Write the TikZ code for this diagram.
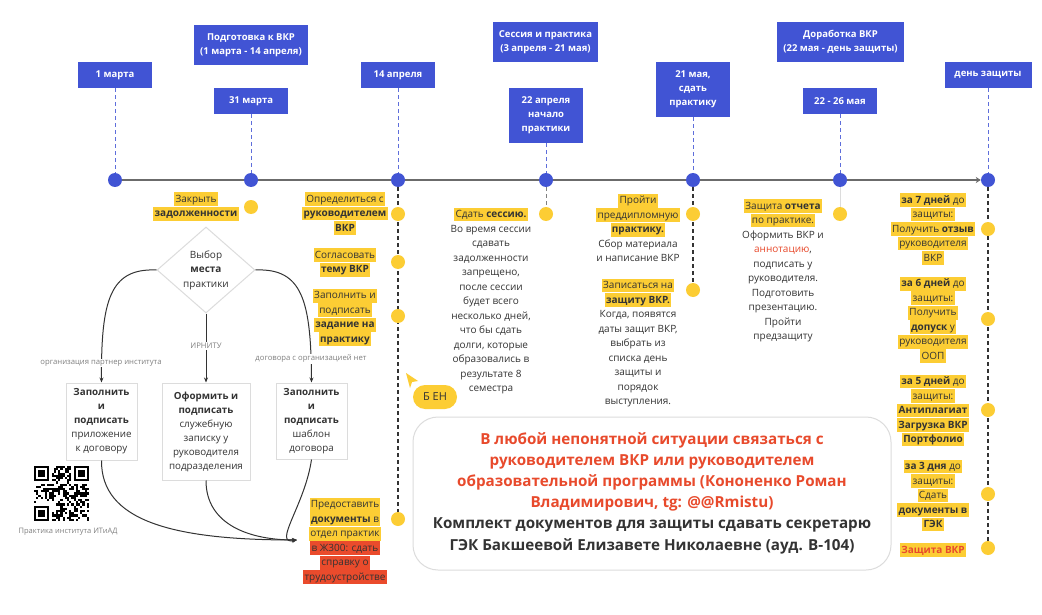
\documentclass[tikz,border=0pt]{standalone}
\usepackage{fontspec}
\setmainfont{Open Sans}
\usetikzlibrary{arrows.meta,shapes.geometric,backgrounds}
\definecolor{vblue}{HTML}{4154D4}
\definecolor{hly}{HTML}{FCCD34}
\definecolor{hlr}{HTML}{EA4B2C}
\definecolor{txt}{HTML}{333333}
\definecolor{redt}{HTML}{E84A2C}
\definecolor{tl}{HTML}{6B6B6B}
\definecolor{lg}{HTML}{DCDCDC}
\newcommand\hl[2][hly]{{\setlength{\fboxsep}{0pt}\colorbox{#1}{\kern1.2pt\rule[-3.6pt]{0pt}{13.6pt}#2\kern1.2pt}}}
\tikzset{
 datebox/.style={fill=vblue, text=white, font=\fontsize{9.5}{14}\selectfont\bfseries, align=center, inner sep=0pt},
 tdot/.style={circle, fill=vblue, minimum size=14pt, inner sep=0pt},
 ydot/.style={circle, fill=hly, minimum size=14pt, inner sep=0pt},
 vdash/.style={vblue!85, dash pattern=on 4pt off 3pt, line width=1pt},
 kdash/.style={txt, dash pattern=on 4pt off 3pt, line width=1.1pt},
 note/.style={align=center, text=txt, font=\fontsize{10}{14.5}\selectfont, inner sep=0pt},
 wbox/.style={draw=lg, fill=white, line width=1pt, align=center, text=txt, font=\fontsize{9.8}{14}\selectfont, inner sep=0pt},
 conn/.style={line width=1pt, txt, -{Stealth[length=5pt,width=4pt]}},
 clabel/.style={fill=white, text=gray, font=\fontsize{7.7}{8}\selectfont, inner sep=1pt},
}
\begin{document}
\begin{tikzpicture}[x=1pt,y=-1pt]
\useasboundingbox (0,0) rectangle (1042,615);
% date boxes
\node[datebox, minimum width=74pt, minimum height=26pt] (b1) at (115,75) {1 марта};
\node[datebox, minimum width=114pt, minimum height=40pt] (bprep) at (251,45) {Подготовка к ВКР\\(1 марта - 14 апреля)};
\node[datebox, minimum width=74pt, minimum height=26pt] (b31) at (251,101) {31 марта};
\node[datebox, minimum width=74pt, minimum height=26pt] (b14) at (398,75) {14 апреля};
\node[datebox, minimum width=105pt, minimum height=40pt] (bsess) at (545.5,42) {Сессия и практика\\(3 апреля - 21 мая)};
\node[datebox, minimum width=74pt, minimum height=55pt] (b22) at (546,115.5) {22 апреля\\начало\\практики};
\node[datebox, minimum width=74pt, minimum height=55pt] (b21) at (693,89.5) {21 мая,\\сдать\\практику};
\node[datebox, minimum width=127pt, minimum height=40pt] (bdor) at (840.5,42) {Доработка ВКР\\(22 мая - день защиты)};
\node[datebox, minimum width=74pt, minimum height=26pt] (b2226) at (840,101) {22 - 26 мая};
\node[datebox, minimum width=87pt, minimum height=26pt] (bday) at (988,75) {день защиты};
% timeline dots
\node[tdot] (t1) at (115,180) {};
\node[tdot] (t2) at (251,180) {};
\node[tdot] (t3) at (398,180) {};
\node[tdot] (t4) at (546,180) {};
\node[tdot] (t5) at (693,180) {};
\node[tdot] (t6) at (840,180) {};
\node[tdot] (t7) at (988,180) {};
% yellow dots
\node[ydot] (y0) at (251,207) {};
\node[ydot] (y1) at (398,214) {};
\node[ydot] (y2) at (398,262) {};
\node[ydot] (y3) at (398,316) {};
\node[ydot] (y4) at (398,519) {};
\node[ydot] (y5) at (546,214) {};
\node[ydot] (y6) at (693,214) {};
\node[ydot] (y7) at (693,290) {};
\node[ydot] (y8) at (840,214) {};
\node[ydot] (y9) at (988,229) {};
\node[ydot] (y10) at (988,319) {};
\node[ydot] (y11) at (988,410) {};
\node[ydot] (y12) at (988,494) {};
\node[ydot] (y13) at (988,548) {};
\begin{scope}[on background layer]
\fill[white] (0,0) rectangle (1042,615);
\draw[tl, line width=2.5pt, -{Stealth[length=5pt,width=6pt]}] (t1) -- (t7);
\draw[vdash] (b1) -- (t1);
\draw[vdash] (b31) -- (t2);
\draw[vdash] (b14) -- (t3);
\draw[vdash] (b22) -- (t4);
\draw[vdash] (b21) -- (t5);
\draw[vdash] (b2226) -- (t6);
\draw[vdash] (bday) -- (t7);
\draw[kdash] (t3) -- (y4);
\draw[kdash] (t5) -- (y7);
\draw[kdash] (t7) -- (y13);
\draw[gray, dash pattern=on 4pt off 3pt, line width=1pt] (t4) -- (y5);
\draw[lg, line width=1pt] (t6) -- (y8);
\end{scope}
% notes
\node[note] (nzak) at (196,206.5) {\hl{Закрыть}\\\hl{\textbf{задолженности}}};
\node[note] (nopr) at (345,213.5) {\hl{Определиться с}\\\hl{\textbf{руководителем}}\\\hl{\textbf{ВКР}}};
\node[note] (nsog) at (345,262.5) {\hl{Согласовать}\\\hl{\textbf{тему ВКР}}};
\node[note] (nzap) at (345,317.5) {\hl{Заполнить и}\\\hl{подписать}\\\hl{\textbf{задание на}}\\\hl{\textbf{практику}}};
\node[note] (npre) at (345,541) {\hl{Предоставить}\\\hl{\textbf{документы} в}\\\hl{отдел практик}\\\hl[hlr]{в Ж300: сдать}\\\hl[hlr]{справку о}\\\hl[hlr]{трудоустройстве}};
\node[note] (nses) at (491,301) {\hl{Сдать \textbf{сессию.}}\\Во время сессии\\сдавать\\задолженности\\запрещено,\\после сессии\\будет всего\\несколько дней,\\что бы сдать\\долги, которые\\образовались в\\результате 8\\семестра};
\node[note] (nproj) at (638,228) {\hl{Пройти}\\\hl{преддипломную}\\\hl{\textbf{практику.}}\\Сбор материала\\и написание ВКР};
\node[note] (nzapis) at (638,343) {\hl{Записаться на}\\\hl{\textbf{защиту ВКР.}}\\Когда, появятся\\даты защит ВКР,\\выбрать из\\списка день\\защиты и\\порядок\\выступления.};
\node[note] (nzash) at (783,270.5) {\hl{Защита \textbf{отчета}}\\\hl{по практике.}\\Оформить ВКР и\\\textcolor{redt}{аннотацию},\\подписать у\\руководителя.\\Подготовить\\презентацию.\\Пройти\\предзащиту};
\node[note] (n7) at (933,229) {\hl{\textbf{за 7 дней} до}\\\hl{защиты:}\\\hl{Получить \textbf{отзыв}}\\\hl{руководителя}\\\hl{ВКР}};
\node[note] (n6) at (933,320) {\hl{\textbf{за 6 дней} до}\\\hl{защиты:}\\\hl{Получить}\\\hl{\textbf{допуск} у}\\\hl{руководителя}\\\hl{ООП}};
\node[note] (n5) at (933,410.5) {\hl{\textbf{за 5 дней} до}\\\hl{защиты:}\\\hl{\textbf{Антиплагиат}}\\\hl{\textbf{Загрузка ВКР}}\\\hl{\textbf{Портфолио}}};
\node[note] (n3) at (933,495.5) {\hl{\textbf{за 3 дня} до}\\\hl{защиты:}\\\hl{Сдать}\\\hl{\textbf{документы в}}\\\hl{\textbf{ГЭК}}};
\node[note] (nz) at (933,550) {\hl{\textcolor{redt}{\textbf{Защита ВКР}}}};
% decision diamond and boxes
\node[diamond, draw=lg, line width=1pt, minimum width=98pt, minimum height=86pt, inner sep=0pt] (dia) at (206,270) {};
\node[note] (ndia) at (206,270) {Выбор\\\textbf{места}\\практики};
\node[wbox, minimum width=71pt, minimum height=77pt] (w1) at (101.5,421.5) {\textbf{Заполнить}\\\textbf{и}\\\textbf{подписать}\\приложение\\к договору};
\node[wbox, minimum width=88pt, minimum height=97pt] (w2) at (206,431.5) {\textbf{Оформить и}\\\textbf{подписать}\\служебную\\записку у\\руководителя\\подразделения};
\node[wbox, minimum width=71pt, minimum height=76pt] (w3) at (311.5,421) {\textbf{Заполнить}\\\textbf{и}\\\textbf{подписать}\\шаблон\\договора};
\coordinate (cin) at (297,540);
\draw[conn] (dia.west) .. controls (110,268) and (101,300) .. (w1.north);
\draw[conn] (dia.south) -- (w2.north);
\draw[conn] (dia.east) .. controls (302,268) and (311,300) .. (w3.north);
\draw[conn] (w1.south) .. controls (101,520) and (170,540) .. (cin);
\draw[conn] (w2.south) .. controls (206,525) and (250,540) .. (cin);
\draw[conn] (w3.south) .. controls (305,505) and (272,545) .. (cin);
\node[clabel] (l1) at (101,363) {организация партнер института};
\node[clabel] (l2) at (206,346) {ИРНИТУ};
\node[clabel] (l3) at (311,359) {договора с организацией нет};
% QR code
\begin{scope}[shift={(34,466)}]
\pgfmathsetseed{4242}
\foreach \i in {0,...,24}{
 \foreach \j in {0,...,24}{
  \pgfmathtruncatemacro{\qrin}{((\i<8)&&(\j<8))||((\i>16)&&(\j<8))||((\i<8)&&(\j>16))}
  \ifnum\qrin=0
   \pgfmathtruncatemacro{\qrr}{random(0,1)}
   \ifnum\qrr=1 \fill[black] (\i*2.2,\j*2.2) rectangle ++(2.2,2.2);\fi
  \fi
 }}
\foreach \cx/\cy in {0/0, 39.6/0, 0/39.6}{
  \fill[black] (\cx,\cy) rectangle ++(15.4,15.4);
  \fill[white] (\cx+2.2,\cy+2.2) rectangle ++(11,11);
  \fill[black] (\cx+4.4,\cy+4.4) rectangle ++(6.6,6.6);
}
\end{scope}
\node[text=gray, font=\fontsize{7.5}{8}\selectfont, inner sep=0pt] (qrl) at (68,532) {Практика института ИТиАД};
% cursor
\fill[hly] (406,373) -- (418,381) -- (412,382) -- (410,388) -- cycle;
\node[fill=hly, rounded corners=12pt, minimum width=44pt, minimum height=24pt, inner sep=0pt, text=txt, font=\fontsize{11}{12}\selectfont] (pill) at (435,397) {Б ЕН};
% big info box
\node[draw=lg, line width=1pt, rounded corners=25pt, minimum width=478pt, minimum height=153pt] (bigbox) at (652,493.5) {};
\node[align=center, inner sep=0pt, font=\fontsize{15.2}{21.2}\selectfont\bfseries, text=txt] (bigtxt) at (652,493) {\textcolor{redt}{В любой непонятной ситуации связаться с}\\\textcolor{redt}{руководителем ВКР или руководителем}\\\textcolor{redt}{образовательной программы (Кононенко Роман}\\\textcolor{redt}{Владимирович, tg: @@Rmistu)}\\Комплект документов для защиты сдавать секретарю\\ГЭК Бакшеевой Елизавете Николаевне (ауд. В-104)};
\end{tikzpicture}
\end{document}
